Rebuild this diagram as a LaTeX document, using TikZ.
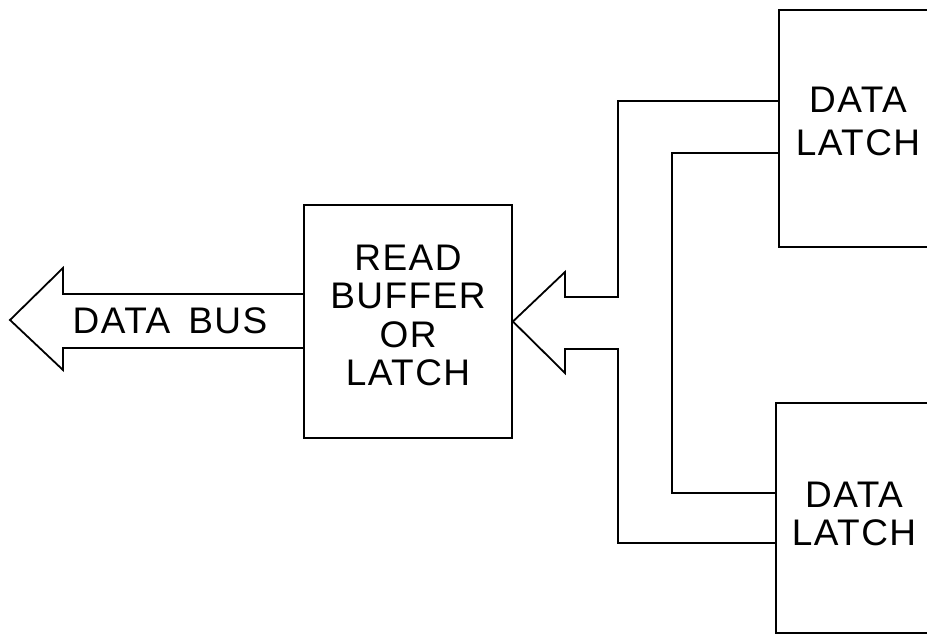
\documentclass[tikz,border=0pt]{standalone}
\usepackage{fontspec}
\setmainfont{Liberation Sans}[LetterSpace=4]
\usetikzlibrary{calc}
\begin{document}
\begin{tikzpicture}[x=1pt,y=-1pt,
  wire/.style={line width=1.8pt,line join=miter},
  blk/.style={draw,line width=1.8pt,rectangle,inner sep=0pt},
  lbl/.style={inner sep=0pt,align=center,font=\fontsize{37}{38.5}\selectfont}]
\clip (0,0) rectangle (927,637);
% boxes
\node[blk,minimum width=208pt,minimum height=233pt] (rb) at (408,321.5) {};
\node[blk,minimum width=181pt,minimum height=237pt] (tl) at (869.5,128.5) {};
\node[blk,minimum width=184pt,minimum height=230pt] (bl) at (868,518) {};
% labels
\node[lbl] (rbt) at ($(rb.center)+(0,-6)$) {READ\\BUFFER\\OR\\LATCH};
\node[lbl,font=\fontsize{37}{43}\selectfont] (tlt) at (858,121.5) {DATA\\LATCH};
\node[lbl,font=\fontsize{37}{38}\selectfont] (blt) at (854,513.5) {DATA\\LATCH};
\node[lbl] (dbt) at (170,320.5) {DATA\hspace{18pt}BUS};
% data bus arrow
\coordinate (dbtop) at ($(rb.west)+(0,-27.5)$);
\coordinate (dbbot) at ($(rb.west)+(0,26.5)$);
\draw[wire] (dbtop) -- (63,294) -- (63,268) -- (10,320) -- (63,370) -- (63,348) -- (dbbot);
% outer wire with input arrow
\coordinate (tlo) at ($(tl.west)+(0,-27.5)$);
\coordinate (tli) at ($(tl.west)+(0,24.5)$);
\coordinate (blo) at ($(bl.west)+(0,25)$);
\coordinate (bli) at ($(bl.west)+(0,-25)$);
\draw[wire] (tlo) -| (618,297) -- (565,297) -- (565,272) -- (rb.east)
  -- (565,373) -- (565,349) -- (618,349) |- (blo);
% inner wire
\draw[wire] (tli) -| (672,493) |- (bli);
\end{tikzpicture}
\end{document}
